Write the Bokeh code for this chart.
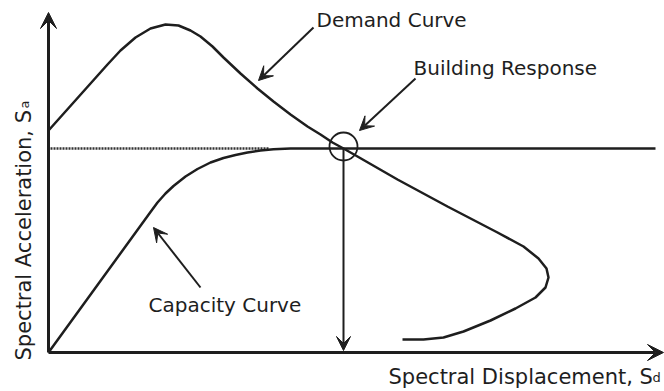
import math
from bokeh.plotting import figure
from bokeh.models import Range1d, Arrow, VeeHead
from bokeh.core.properties import value
from bokeh.embed import file_html
from bokeh.resources import INLINE

# Diagram units: Sd (spectral displacement) and Sa (spectral acceleration), origin at axes corner
demand_sd = [0, 59, 72, 87, 102, 117, 130, 142, 152, 164, 175, 192, 209, 225, 242, 259, 272, 284, 295,
             309, 349, 399, 449, 475, 490, 498, 500, 497, 487, 467, 442, 415, 395, 375, 354]
demand_sa = [222, 288, 302, 315, 324, 328, 327, 322, 316, 306, 295, 279, 264, 251, 238, 226, 218, 210, 204,
             196, 173, 146, 120, 106, 94, 84, 75, 65, 55, 44, 32, 21, 15, 13, 13]

capacity_sd = [0, 102, 109, 117, 125, 137, 149, 162, 175, 187, 199, 212, 225, 242, 295, 607]
capacity_sa = [0, 140.5, 150, 159, 166.5, 176, 183.5, 190, 194.5, 197.5, 200, 202, 203.3, 204, 204, 204]

dotted_sd = [2, 220]
dotted_sa = [204, 204]

response_sd = [295]
response_sa = [206]

# Arrows: (x_start, y_start, x_end, y_end)
axis_arrows = [(0, 0, 0, 340), (0, 0, 615, 0)]
response_arrow = (295, 204, 295, 2)
callout_arrows = [(265, 325, 210, 272), (367, 274, 311, 222), (152, 65, 105, 125)]

labels = ["Demand Curve", "Building Response", "Capacity Curve"]
labels_sd = [268, 365, 100]
labels_sa = [333, 285, 48]

xlabel = "Spectral Displacement, S"
xlabel_sub = "d"
ylabel = "Spectral Acceleration, S"
ylabel_sub = "a"

INK = "#1e1e1e"
FONT = value("DejaVu Sans")

p = figure(width=664, height=391, output_backend="svg", toolbar_location=None,
           x_range=Range1d(-48, 616), y_range=Range1d(-39, 352), min_border=0)
p.axis.visible = False
p.grid.visible = False
p.outline_line_color = None
p.background_fill_color = "white"
p.border_fill_color = "white"

# dotted reference line
p.line(dotted_sd, dotted_sa, line_color="#333333", line_width=2.5, line_dash="2 1")
# curves
p.line(capacity_sd, capacity_sa, line_color=INK, line_width=2.5)
p.line(demand_sd, demand_sa, line_color=INK, line_width=2.5)
# circle at performance point
p.scatter(response_sd, response_sa, marker="circle", size=28, fill_alpha=0,
          line_color=INK, line_width=1.8)

for (xs, ys, xe, ye) in axis_arrows:
    p.add_layout(Arrow(x_start=xs, y_start=ys, x_end=xe, y_end=ye, line_color=INK, line_width=3,
                       end=VeeHead(size=16, fill_color=INK, line_color=INK, line_width=1)))
xs, ys, xe, ye = response_arrow
p.add_layout(Arrow(x_start=xs, y_start=ys, x_end=xe, y_end=ye, line_color=INK, line_width=2,
                   end=VeeHead(size=14, fill_color=INK, line_color=INK, line_width=1)))
for (xs, ys, xe, ye) in callout_arrows:
    p.add_layout(Arrow(x_start=xs, y_start=ys, x_end=xe, y_end=ye, line_color=INK, line_width=2,
                       end=VeeHead(size=14, fill_color=INK, line_color=INK, line_width=1)))

p.text(labels_sd, labels_sa, text=labels, text_font=FONT, text_font_size=value("20px"),
       text_color=INK, text_align="left", text_baseline="alphabetic")

# axis titles
p.text([340], [-24], text=[xlabel], text_font=FONT, text_font_size=value("21px"),
       text_color=INK, text_align="left", text_baseline="alphabetic")
p.text([604], [-25], text=[xlabel_sub], text_font=FONT, text_font_size=value("13px"),
       text_color=INK, text_align="left", text_baseline="alphabetic")

p.text([-25], [-8], text=[ylabel], text_font=FONT, text_font_size=value("21px"),
       text_color=INK, text_align="left", text_baseline="alphabetic", angle=math.pi / 2)
p.text([-24], [244], text=[ylabel_sub], text_font=FONT, text_font_size=value("13px"),
       text_color=INK, text_align="left", text_baseline="alphabetic", angle=math.pi / 2)

open("out.html", "w").write(file_html(p, INLINE))
